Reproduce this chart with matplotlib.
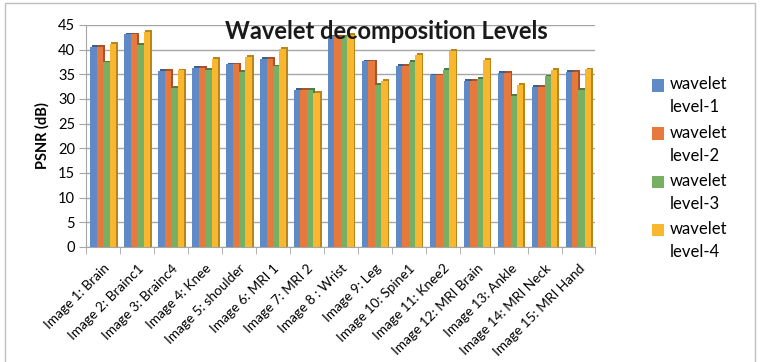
import matplotlib.pyplot as plt
import numpy as np
from matplotlib.patches import Rectangle

plt.rcParams['font.family'] = ['Lato', 'DejaVu Sans']

images = ['Image 1: Brain', 'Image 2: Brainc1', 'Image 3: Brainc4', 'Image 4: Knee',
          'Image 5: shoulder', 'Image 6: MRI 1', 'Image 7: MRI 2', 'Image 8 : Wrist',
          'Image 9: Leg', 'Image 10: Spine1', 'Image 11: Knee2', 'Image 12: MRI Brain',
          'Image 13: Ankle', 'Image 14: MRI Neck', 'Image 15: MRI Hand']

level1 = [40.6, 43.1, 35.7, 36.3, 37.0, 38.1, 31.8, 42.7, 37.6, 36.7, 34.8, 33.7, 35.3, 32.4, 35.5]
level2 = [40.6, 43.1, 35.7, 36.3, 37.0, 38.1, 31.8, 42.7, 37.6, 36.7, 34.8, 33.7, 35.3, 32.4, 35.5]
level3 = [37.4, 40.9, 32.3, 35.9, 35.5, 36.6, 31.8, 42.7, 32.9, 37.5, 35.9, 34.0, 30.6, 34.6, 31.8]
level4 = [41.1, 43.6, 35.8, 38.2, 38.5, 40.1, 31.3, 43.0, 33.7, 38.9, 39.7, 37.9, 32.8, 35.9, 36.0]

series = [level1, level2, level3, level4]
names = ['wavelet\nlevel-1', 'wavelet\nlevel-2', 'wavelet\nlevel-3', 'wavelet\nlevel-4']
colors = ['#5f8ac6', '#e8793d', '#77b063', '#f8b72e']
sides = ['#3f5f8e', '#a8532a', '#4f7d40', '#b9861c']

fig = plt.figure(figsize=(7.6, 3.62), dpi=100)
ax = fig.add_axes([0.1135, 0.318, 0.670, 0.613])

x = np.arange(len(images))
w = 0.19
for i, vals in enumerate(series):
    pos = x + (i - 1.5) * w
    # darker offset copy gives the bars a bit of depth
    ax.bar(pos + 0.05, np.array(vals) + 0.35, w, color=sides[i], zorder=2)
    ax.bar(pos, vals, w, color=colors[i], label=names[i], zorder=3)

ax.set_ylim(0, 45)
ax.set_xlim(-0.5, len(images) - 0.5)
ax.set_yticks(range(0, 50, 5))
ax.yaxis.grid(True, color='#a6a6a6', linewidth=1.0, zorder=0)
ax.set_axisbelow(True)

ax.set_xticks(x)
ax.set_xticklabels(images, rotation=45, ha='right', rotation_mode='anchor', fontsize=9.8)
ax.set_xticks(np.arange(-0.5, len(images), 1), minor=True)
ax.tick_params(axis='x', which='major', length=0, pad=11)
ax.tick_params(axis='x', which='minor', length=5, color='#a6a6a6')
ax.tick_params(axis='y', length=5, color='#a6a6a6', labelsize=10.5, pad=3)

for s in ['top', 'right']:
    ax.spines[s].set_visible(False)
for s in ['left', 'bottom']:
    ax.spines[s].set_color('#a6a6a6')

ax.set_ylabel('PSNR (dB)', fontsize=10.5, fontweight='bold', labelpad=6)

fig.text(0.508, 0.912, 'Wavelet decomposition Levels', ha='center', va='center',
         fontsize=17, fontweight='bold', color='#1a1a1a')

leg = fig.legend(loc='center left', bbox_to_anchor=(0.838, 0.535), frameon=False,
                 fontsize=12, handlelength=0.75, handleheight=0.75, labelspacing=0.55,
                 handletextpad=0.35)
for t in leg.get_texts():
    t.set_linespacing(1.55)
for h in leg.legend_handles:
    h.set_height(9)
    h.set_y(h.get_y() + 8)

fig.patches.append(Rectangle((0.006, -0.05), 0.988, 1.043, transform=fig.transFigure,
                             fill=False, edgecolor='#bfbfbf', linewidth=1.0))

fig.savefig('out.png', dpi=100)
